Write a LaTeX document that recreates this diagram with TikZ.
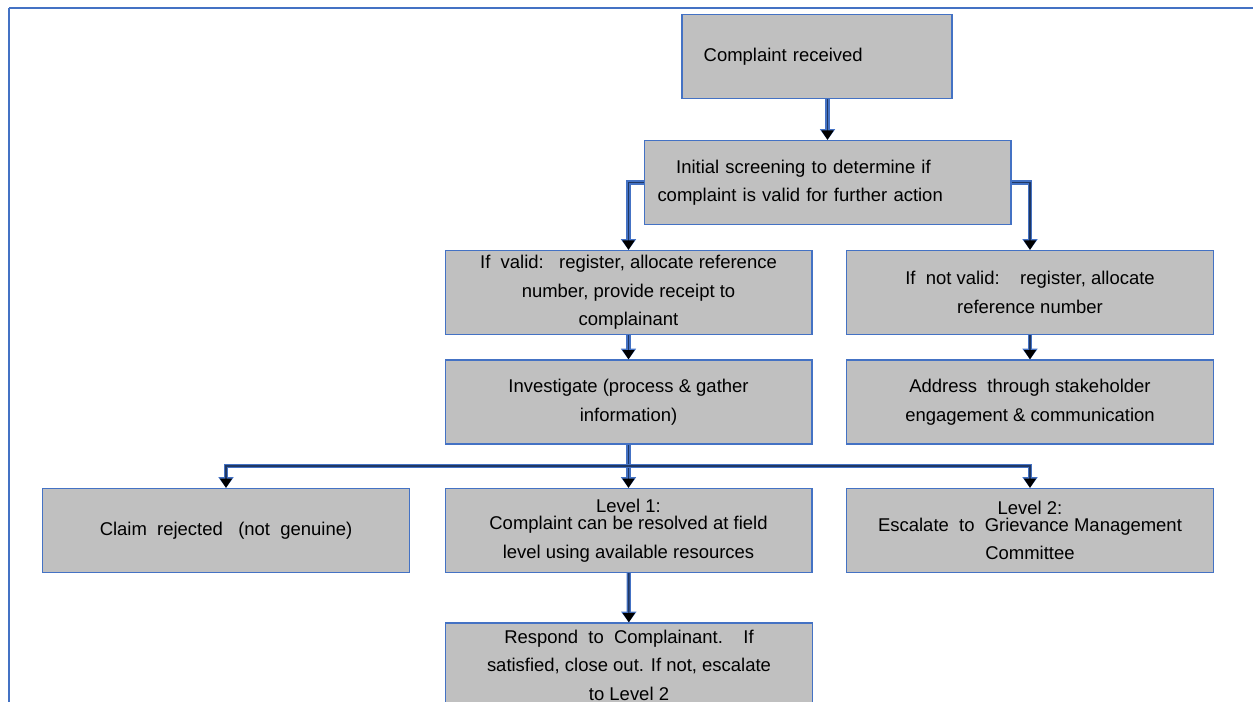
\documentclass[tikz,border=0pt]{standalone}
\usepackage{fontspec}
\setmainfont{Liberation Sans}
\usetikzlibrary{positioning, arrows.meta, calc}

\definecolor{boxgrey}{HTML}{C0C0C0}
\definecolor{boxblue}{HTML}{4472C4}
\definecolor{corenavy}{HTML}{203864}

\begin{document}
\begin{tikzpicture}[
    x=0.75pt, y=-0.75pt,
    box/.style={rectangle, draw=boxblue, fill=boxgrey, line width=1pt,
      minimum width=275pt, minimum height=63pt, inner sep=0pt, align=center,
      font=\fontsize{13.85}{21.4}\selectfont},
    flow/.style={draw=corenavy, line width=1.3pt,
      -{Triangle[length=7pt, width=9pt, black]},
      preaction={draw=boxblue, line width=3.2pt,
        -{Triangle[length=8pt, width=11pt]}}},
    frame/.style={draw=boxblue, line width=1.5pt},
  ]
  \useasboundingbox (0,0) rectangle (1253,702);

  %% --- page frame (only top and left edges show) ---
  \draw[frame] (9,8) -- (1300,8);
  \draw[frame] (9,8) -- (9,760);

  %% --- top of the chart ---
  \node[box, minimum width=202.5pt, text width=170pt, inner xsep=16pt,
    align=left] (complaint) at (817,56.5) {Complaint received};
  \node[box, text width=255pt, inner xsep=10pt, align=left] (screening)
    at (827.5,182.5)
    {\hspace*{14pt}Initial screening to determine if\\
     complaint is valid for further action};

  %% --- valid / not valid ---
  % left column
  \node[box] (valid) at (628.5,292.5)
    {If\ \ valid:\ \ \ register, allocate reference\\
     number, provide receipt to\\ complainant};
  \node[box] (investigate) at (628.5,402)
    {Investigate (process \& gather\\ information)};
  % right column
  \node[box] (notvalid) at (1030,292.5)
    {If\ \ not valid:\ \ \ \ register, allocate\\ reference number};
  \node[box] (address) at (1030,402)
    {Address\ \ through stakeholder\\ engagement \& communication};

  %% --- outcomes ---
  \node[box] (rejected) at (226,530.5)
    {Claim\ \ rejected\ \ \ (not\ \ genuine)};
  \node[box] (level1) at (628.5,530.5)
    {Level 1:\\[-8.5pt] Complaint can be resolved at field\\
     level using available resources};
  \node[box] (level2) at (1030,530.5)
    {Level 2:\\[-8.5pt] Escalate\ \ to\ \ Grievance Management\\
     Committee};
  \node[box] (respond) at (629,665)
    {Respond\ \ to\ \ Complainant.\ \ \ \ If\\
     satisfied, close out. If not, escalate\\ to Level 2};

  %% --- connectors ---
  \draw[flow] (complaint.south -| screening.north) -- (screening.north);
  \draw[flow] (screening.west) -| (valid.north);
  \draw[flow] (screening.east) -| (notvalid.north);
  \draw[flow] (valid) -- (investigate);
  \draw[flow] (notvalid) -- (address);

  % fork under Investigate
  \coordinate (fork) at ($(investigate.south)!0.5!(level1.north)$);
  \draw[flow] (investigate.south) -- (level1.north);
  \draw[flow] (fork) -| (rejected.north);
  \draw[flow] (fork) -| (level2.north);

  \draw[flow] (level1) -- (respond);
\end{tikzpicture}
\end{document}
